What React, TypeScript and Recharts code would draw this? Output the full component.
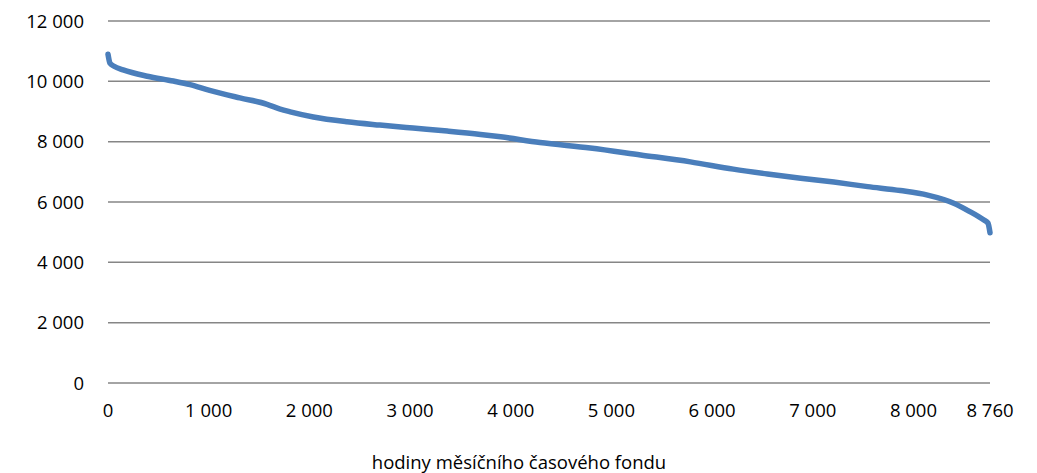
import { LineChart, Line, XAxis, YAxis, CartesianGrid } from 'recharts';

// hours of the year (sorted duration curve) and load values
const hours = [
  0, 20, 60, 150, 390, 650, 815, 1010, 1310, 1580, 1710, 1810, 2040, 2375, 2700,
  3030, 3370, 3700, 3900, 4290, 4790, 5290, 5785, 6210, 6550, 6880, 7210, 7545,
  7870, 8140, 8400, 8550, 8700, 8740, 8760,
];
const load = [
  10900, 10600, 10500, 10380, 10170, 10010, 9890, 9700, 9450, 9240, 9080, 8990,
  8820, 8660, 8550, 8450, 8350, 8240, 8160, 7970, 7790, 7560, 7330, 7090, 6930,
  6790, 6660, 6510, 6380, 6230, 5960, 5700, 5400, 5300, 4980,
];
const xTicks = [0, 1000, 2000, 3000, 4000, 5000, 6000, 7000, 8000, 8760];
const yTicks = [0, 2000, 4000, 6000, 8000, 10000, 12000];
const xTitle = 'hodiny měsíčního časového fondu';

const data = hours.map((h, i) => ({ h, v: load[i] }));

const fmt = (n: number) =>
  n >= 1000 ? `${Math.floor(n / 1000)} ${String(n % 1000).padStart(3, '0')}` : String(n);

const tickStyle = { fontSize: 18.5, fill: '#000', fontFamily: 'Open Sans' };

export default function App() {
  return (
    <div style={{ position: 'absolute', left: 0, top: 0, background: '#fff' }}>
      <LineChart
        width={1037}
        height={473}
        data={data}
        margin={{ top: 21, right: 47, left: 0, bottom: 0 }}
        style={{ fontFamily: 'Open Sans' }}
      >
        <CartesianGrid vertical={false} stroke="#868686" strokeWidth={1.5} />
        <XAxis
          dataKey="h"
          type="number"
          domain={[0, 8760]}
          ticks={xTicks}
          tickFormatter={fmt}
          axisLine={false}
          tickLine={false}
          tickSize={0}
          tickMargin={21}
          height={90}
          tick={tickStyle}
          interval={0}
          label={{
            value: xTitle,
            position: 'insideBottom',
            offset: 4,
            dx: -30,
            style: { fontSize: 18.5, fill: '#000', fontFamily: 'Open Sans' },
          }}
        />
        <YAxis
          type="number"
          domain={[0, 12000]}
          ticks={yTicks}
          tickFormatter={fmt}
          axisLine={false}
          tickLine={false}
          tickSize={0}
          tickMargin={24}
          width={108}
          tick={tickStyle}
          interval={0}
        />
        <Line
          dataKey="v"
          type="monotone"
          stroke="#4A7EBB"
          strokeWidth={5.5}
          strokeLinecap="round"
          dot={false}
          isAnimationActive={false}
        />
      </LineChart>
    </div>
  );
}
